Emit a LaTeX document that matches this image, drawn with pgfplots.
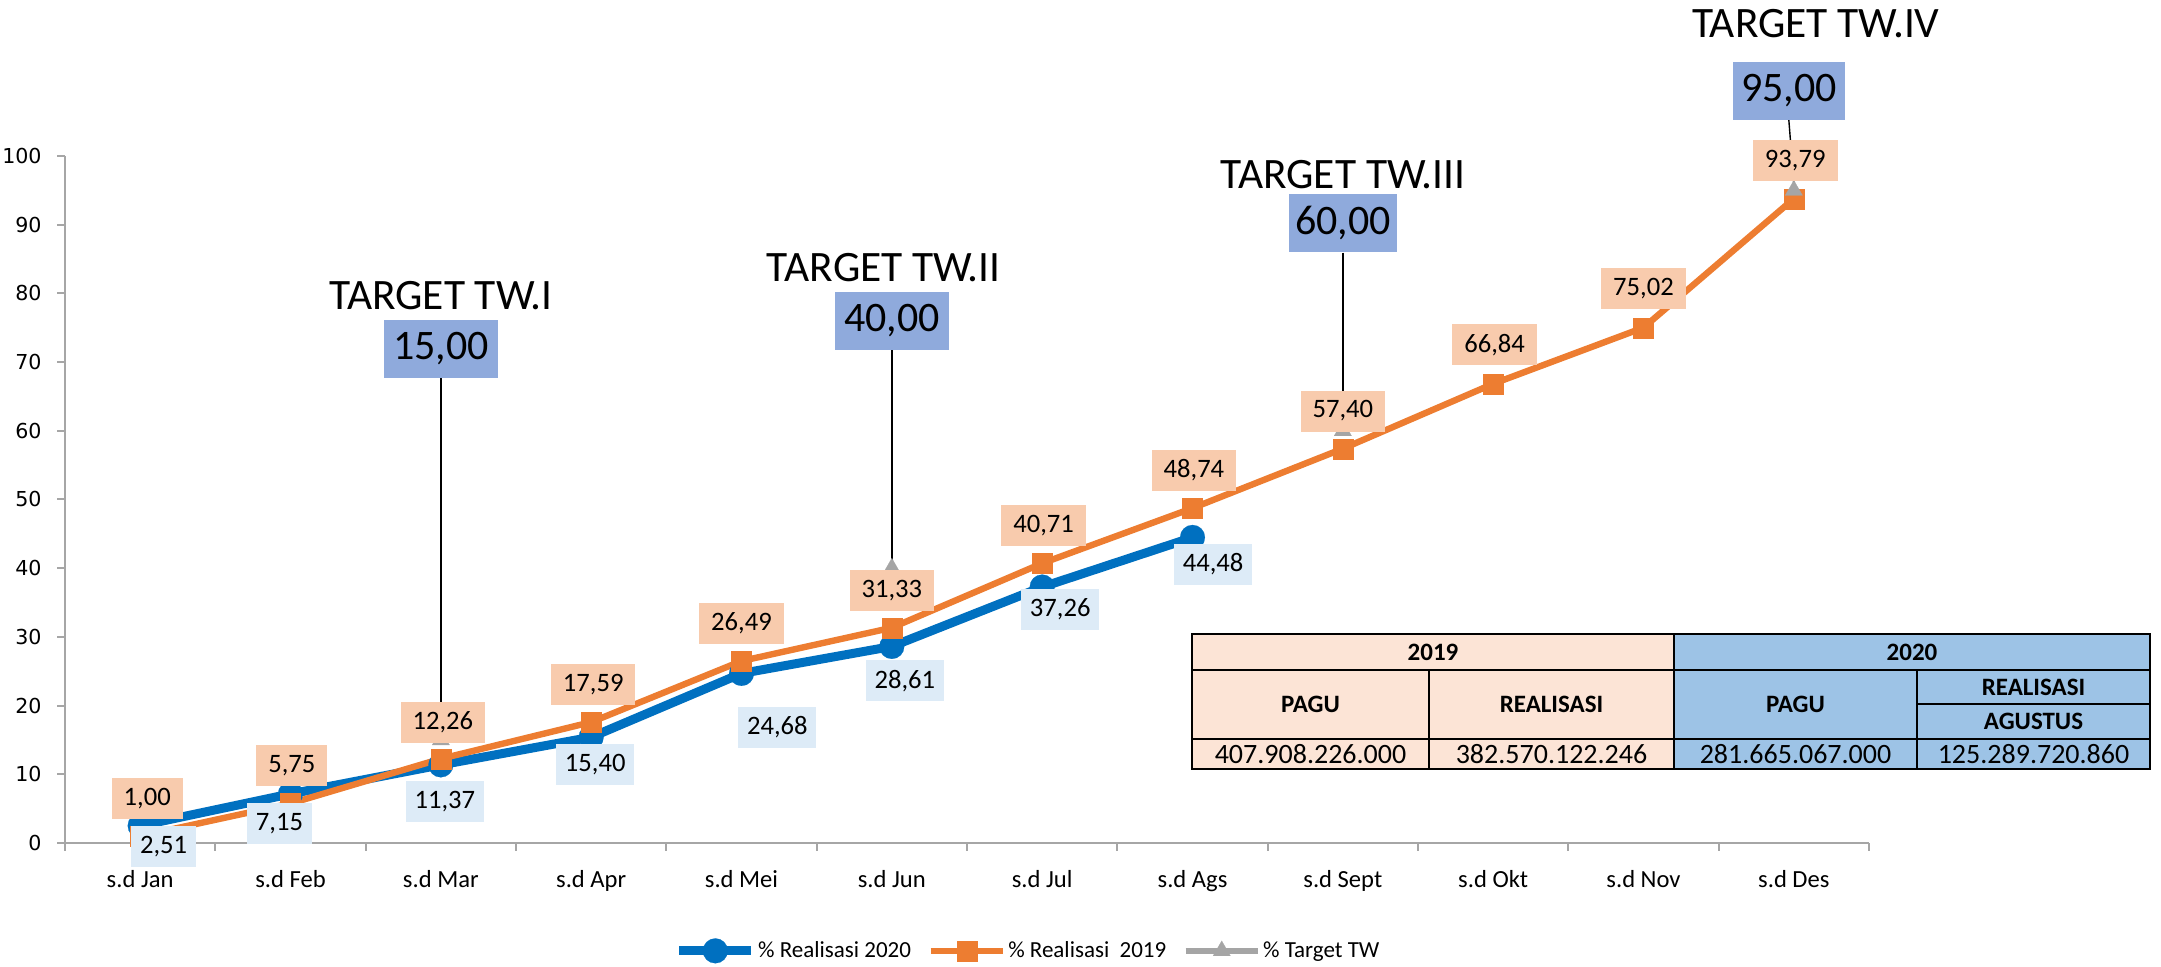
\documentclass[border=0pt]{standalone}
\usepackage{fontspec}
\setmainfont{Carlito}
\newfontfamily\dejavu{DejaVu Sans}
\usepackage{pgfplots}
\pgfplotsset{compat=1.18}
\usepackage{pgfplotstable}

\definecolor{blue20}{HTML}{0070C0}
\definecolor{orange19}{HTML}{ED7D31}
\definecolor{grayT}{HTML}{A5A5A5}
\definecolor{lblOr}{HTML}{F8CBAD}
\definecolor{lblBl}{HTML}{DDEBF7}
\definecolor{tgtBox}{HTML}{8FAADC}
\definecolor{tab19}{HTML}{FCE4D6}
\definecolor{tab20}{HTML}{9DC3E6}
\definecolor{axgray}{HTML}{A6A6A6}

% 2020 realisation (x = month index, dx/dy = label offset in pt)
\pgfplotstableread{
x y dx dy
0 2.51 11.7 -10.3
1 7.15 -5.5 -15
2 11.37 2 -18.4
3 15.40 2 -13.6
4 24.68 17.9 -26.9
5 28.61 6.5 -17.2
6 37.26 9 -11
7 44.48 10.3 -13.3
}\realA

% 2019 realisation
\pgfplotstableread{
x y dx dy
0 1.00 3.5 18.8
1 5.75 0.7 18.8
2 12.26 1 18.3
3 17.59 1 18.8
4 26.49 0 18.8
5 31.33 0 18.8
6 40.71 0.7 18.8
7 48.74 0.7 18.8
8 57.40 0 18.8
9 66.84 0.7 19.5
10 75.02 0 19.5
11 93.79 0.7 19
}\realB

% quarterly targets
\pgfplotstableread{
x y
2 15
3 nan
5 40
6 nan
8 60
9 nan
11 95
}\target

\begin{document}
\begin{tikzpicture}
\begin{axis}[
  at={(0,0)}, anchor=south west,
  scale only axis, width=902pt, height=343.5pt,
  xmin=-0.5, xmax=11.5, ymin=0, ymax=100,
  clip=false,
  axis lines*=left,
  axis line style={axgray, line width=1pt, -},
  tick align=outside,
  major tick length=4pt, minor tick length=4pt,
  tick style={axgray, line width=1pt},
  xtick={0,...,11},
  xticklabels={s.d Jan,s.d Feb,s.d Mar,s.d Apr,s.d Mei,s.d Jun,s.d Jul,s.d Ags,s.d Sept,s.d Okt,s.d Nov,s.d Des},
  major x tick style={draw=none},
  minor xtick={-0.5,0.5,1.5,2.5,3.5,4.5,5.5,6.5,7.5,8.5,9.5,10.5,11.5},
  ytick={0,10,...,100},
  /pgf/number format/assume math mode=true,
  xticklabel style={font=\fontsize{12.3}{14}\selectfont, anchor=base, inner sep=0pt, yshift=-18.4pt},
  yticklabel style={font=\dejavu\fontsize{10.3}{12}\selectfont, anchor=east, inner sep=0pt, xshift=-7.5pt},
  unbounded coords=jump,
  legend columns=3,
  legend style={at={(0.534,-0.157)}, anchor=center, draw=none, fill=none,
    font=\fontsize{11.5}{13}\selectfont, inner sep=0pt,
    nodes={inner sep=1.2pt},
    /tikz/every even column/.append style={column sep=7pt}},
  legend image code/.code={\draw[mark repeat=2,mark phase=2,#1] plot coordinates {(0pt,0pt) (18pt,0pt) (36pt,0pt)};},
]
\addplot[blue20, line width=4.5pt, mark=*, mark size=6.2pt, mark options={line width=0.1pt}] table[x=x,y=y]{\realA};
\addlegendentry{\% Realisasi 2020}
\addplot[orange19, line width=3.2pt, mark=square*, mark size=5pt, mark options={line width=0.1pt}] table[x=x,y=y]{\realB};
\addlegendentry{\% Realisasi\ \ 2019}
\addplot[grayT, line width=3pt, mark=triangle*, mark size=5pt, mark options={line width=0.1pt}] table[x=x,y=y]{\target};
\addlegendentry{\% Target TW}

% data labels, drawn over the lines
\addplot[draw=none, forget plot, point meta=y,
  visualization depends on={\thisrow{dx} \as \dx},
  visualization depends on={\thisrow{dy} \as \dy},
  nodes near coords={\pgfmathprintnumber[fixed,fixed zerofill,precision=2,use comma,assume math mode=true]{\pgfplotspointmeta}},
  every node near coord/.append style={anchor=center, xshift=\dx pt, yshift=\dy pt, fill=lblBl, text=black,
    inner xsep=4.4pt, inner ysep=0pt, minimum height=20.5pt, font=\fontsize{13.3}{15}\selectfont}
] table[x=x,y=y]{\realA};
\addplot[draw=none, forget plot, point meta=y,
  visualization depends on={\thisrow{dx} \as \dx},
  visualization depends on={\thisrow{dy} \as \dy},
  nodes near coords={\pgfmathprintnumber[fixed,fixed zerofill,precision=2,use comma,assume math mode=true]{\pgfplotspointmeta}},
  every node near coord/.append style={anchor=center, xshift=\dx pt, yshift=\dy pt, fill=lblOr, text=black,
    inner xsep=6pt, inner ysep=0pt, minimum height=20.5pt, font=\fontsize{13.3}{15}\selectfont}
] table[x=x,y=y]{\realB};

% target annotations
\node[fill=tgtBox, minimum width=57pt, minimum height=29pt, inner sep=0pt, font=\fontsize{21}{24}\selectfont] (b1) at (axis cs:2,71.9) {15,00};
\node[font=\fontsize{21.7}{25}\selectfont, anchor=base, inner sep=0pt] at (axis cs:2,77.6) {TARGET TW.I};
\draw[black, line width=0.7pt] (b1.south) -- ([yshift=3pt]axis cs:2,15);

\node[fill=tgtBox, minimum width=57pt, minimum height=29pt, inner sep=0pt, font=\fontsize{21}{24}\selectfont] (b2) at (axis cs:5,76.0) {40,00};
\node[font=\fontsize{21.7}{25}\selectfont, anchor=base, inner sep=0pt] at ([xshift=-4pt]axis cs:5,81.7) {TARGET TW.II};
\draw[black, line width=0.7pt] (b2.south) -- ([yshift=3pt]axis cs:5,40);

\node[fill=tgtBox, minimum width=54pt, minimum height=29pt, inner sep=0pt, font=\fontsize{21}{24}\selectfont] (b3) at (axis cs:8,90.2) {60,00};
\node[font=\fontsize{21.7}{25}\selectfont, anchor=base, inner sep=0pt] at (axis cs:8,95.3) {TARGET TW.III};
\draw[black, line width=0.7pt] (b3.south) -- ([yshift=3pt]axis cs:8,60);

\node[fill=tgtBox, minimum width=56pt, minimum height=29pt, inner sep=0pt, font=\fontsize{21}{24}\selectfont] (b4) at ([xshift=-2.5pt]axis cs:11,109.5) {95,00};
\node[font=\fontsize{21.7}{25}\selectfont, anchor=base, inner sep=0pt] at ([xshift=11pt]axis cs:11,117.2) {TARGET TW.IV};
\draw[black, line width=0.7pt] (b4.south) -- ([yshift=3pt]axis cs:11,95);
\end{axis}

% budget table
\def\L{563.5pt}\def\Ca{682pt}\def\Cb{804.5pt}\def\Cc{926pt}\def\R{1042.5pt}
\def\T{104.5pt}\def\Ra{86.5pt}\def\Rs{69.5pt}\def\Rb{52pt}\def\B{37pt}
\fill[tab19] (\L,\B) rectangle (\Cb,\T);
\fill[tab20] (\Cb,\B) rectangle (\R,\T);
\draw[black, line width=1.2pt] (\L,\B) rectangle (\R,\T);
\draw[black, line width=1.2pt] (\L,\Ra) -- (\R,\Ra) (\L,\Rb) -- (\R,\Rb) (\Cc,\Rs) -- (\R,\Rs)
  (\Cb,\T) -- (\Cb,\B) (\Ca,\Ra) -- (\Ca,\B) (\Cc,\Ra) -- (\Cc,\B);
\begin{scope}[every node/.style={inner sep=0pt, font=\fontsize{14}{16}\selectfont}]
\node[font=\bfseries\fontsize{12.5}{14}\selectfont] at (684pt,95.5pt) {2019};
\node[font=\bfseries\fontsize{12.5}{14}\selectfont] at (923.5pt,95.5pt) {2020};
\node[font=\bfseries\fontsize{12.5}{14}\selectfont] at (622.75pt,69.25pt) {PAGU};
\node[font=\bfseries\fontsize{12.5}{14}\selectfont] at (743.25pt,69.25pt) {REALISASI};
\node[font=\bfseries\fontsize{12.5}{14}\selectfont] at (865.25pt,69.25pt) {PAGU};
\node[font=\bfseries\fontsize{12.5}{14}\selectfont] at (984.25pt,78pt) {REALISASI};
\node[font=\bfseries\fontsize{12.5}{14}\selectfont] at (984.25pt,60.75pt) {AGUSTUS};
\node at (622.75pt,44.5pt) {407.908.226.000};
\node at (743.25pt,44.5pt) {382.570.122.246};
\node at (865.25pt,44.5pt) {281.665.067.000};
\node at (984.25pt,44.5pt) {125.289.720.860};
\end{scope}

\pgfresetboundingbox
\useasboundingbox (-32.5pt,-62pt) rectangle (1048pt,421.5pt);
\end{tikzpicture}
\end{document}
